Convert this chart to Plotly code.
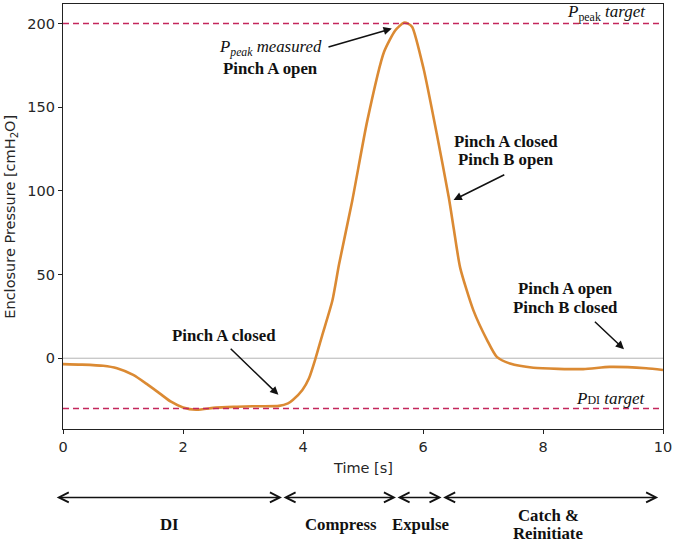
import plotly.graph_objects as go

# ---- data ----
time_s = [0.0, 0.3, 0.67, 0.9, 1.17, 1.4, 1.61, 1.8, 2.0, 2.22, 2.55, 2.9, 3.16, 3.6, 3.75,
          3.83, 3.99, 4.1, 4.21, 4.32, 4.49, 4.6, 4.82, 5.07, 5.35, 5.54, 5.68, 5.75, 5.82,
          6.01, 6.23, 6.43, 6.51, 6.62, 6.84, 7.07, 7.23, 7.45, 7.84, 8.67, 9.11, 9.72, 10.0]
pressure = [-3.5, -3.8, -4.5, -6, -10, -15.5, -21, -26, -29.4, -30.8, -29.5, -29, -28.7, -28.5, -27,
            -25, -19, -12, 0, 13.7, 34.5, 56, 94, 141.7, 183, 196, 200.5, 200, 198,
            173, 134, 96, 78, 54, 28.6, 10.7, 0.8, -3.2, -5.7, -6.5, -5.2, -6, -7]

p_peak_target = 200
p_di_target = -30

x_ticks = [0, 2, 4, 6, 8, 10]
y_ticks = [0, 50, 100, 150, 200]

phase_bounds = [-0.13, 3.65, 5.55, 6.31, 9.92]
# (label, x, paper y)
phase_labels = [("DI", 1.78, -0.2255), ("Compress", 4.63, -0.2255), ("Expulse", 5.96, -0.2255),
                ("Catch &amp;", 8.09, -0.203), ("Reinitiate", 8.09, -0.245)]

# callout text lines: (html, x, y)
callout_texts = [
    ("<i>P<sub>peak</sub> measured</i>", 3.455, 185.6),
    ("<b>Pinch A open</b>", 3.455, 173.2),
    ("<b>Pinch A closed</b>", 7.39, 129.8),
    ("<b>Pinch B open</b>", 7.39, 119.0),
    ("<b>Pinch A closed</b>", 2.69, 13.7),
    ("<b>Pinch A open</b>", 8.37, 41.7),
    ("<b>Pinch B closed</b>", 8.37, 30.4),
]

# arrows: (tip_x, tip_y, tail_x, tail_y)
callout_arrows = [
    (5.48, 197.0, 4.40, 185.7),
    (6.51, 94.6, 7.38, 110.1),
    (3.59, -21.9, 2.77, 6.5),
    (9.35, 5.4, 8.84, 22.6),
]

ORANGE = "#DB8A33"
CRIMSON = "#C4265C"
SERIF = "Liberation Serif"
SANS = "DejaVu Sans"
TICKCOL = "#262626"
TXT = "#111111"
FS = 16.8

fig = go.Figure()
fig.add_trace(go.Scatter(x=time_s, y=pressure, mode="lines",
                         line=dict(color=ORANGE, width=2.6, shape="spline", smoothing=0.6),
                         showlegend=False, hoverinfo="skip"))

fig.add_hline(y=0, line=dict(color="#B5B5B5", width=1), layer="below")
fig.add_hline(y=p_peak_target, line=dict(color=CRIMSON, width=1.5, dash="6px,4px"))
fig.add_hline(y=p_di_target, line=dict(color=CRIMSON, width=1.5, dash="6px,4px"))

ann = []
# target labels
ann.append(dict(x=9.75, y=206.5, xref="x", yref="y", xanchor="right", yanchor="middle",
                text="<i>P</i><sub>peak</sub> <i>target</i>", showarrow=False,
                font=dict(family=SERIF, size=17, color=TXT)))
ann.append(dict(x=9.75, y=-23.8, xref="x", yref="y", xanchor="right", yanchor="middle",
                text="<i>P</i><span style='font-size:12px'>DI</span> <i>target</i>", showarrow=False,
                font=dict(family=SERIF, size=17, color=TXT)))
for html, tx, ty in callout_texts:
    ann.append(dict(x=tx, y=ty, xref="x", yref="y", xanchor="center", yanchor="middle",
                    text=html, showarrow=False, font=dict(family=SERIF, size=FS, color=TXT)))
for tx, ty, sx, sy in callout_arrows:
    ann.append(dict(x=tx, y=ty, ax=sx, ay=sy, xref="x", yref="y", axref="x", ayref="y",
                    text="", showarrow=True, arrowhead=2, arrowsize=1.1, arrowwidth=1.5,
                    arrowcolor=TXT, standoff=0, startstandoff=0))

# axis titles
ann.append(dict(x=0.5, y=-0.0915, xref="paper", yref="paper", xanchor="center", yanchor="middle",
                text="Time [s]", showarrow=False, font=dict(family=SANS, size=14.5, color=TICKCOL)))
ann.append(dict(x=-0.088, y=0.5, xref="paper", yref="paper", xanchor="center", yanchor="middle",
                textangle=-90, text="Enclosure Pressure [cmH<sub>2</sub>O]", showarrow=False,
                font=dict(family=SANS, size=14.5, color=TICKCOL)))

# phase arrows + labels
for i in range(len(phase_bounds) - 1):
    a, b = phase_bounds[i], phase_bounds[i + 1]
    ann.append(dict(x=b, y=-0.161, xref="x", yref="paper", ax=a, ay=0, axref="x", ayref="pixel",
                    text="", showarrow=True, arrowhead=5, arrowside="end+start", arrowsize=1.3,
                    arrowwidth=1.5, arrowcolor=TXT, standoff=0, startstandoff=0))
for name, lx, ly in phase_labels:
    ann.append(dict(x=lx, y=ly, xref="x", yref="paper", xanchor="center",
                    yanchor="middle", text="<b>" + name + "</b>", showarrow=False,
                    font=dict(family=SERIF, size=FS, color=TXT)))

fig.update_layout(
    width=675, height=542,
    margin=dict(l=63, r=10, t=3, b=113),
    paper_bgcolor="white", plot_bgcolor="white",
    annotations=ann,
    showlegend=False,
    font=dict(family=SANS, size=14.5, color=TICKCOL),
)
fig.update_xaxes(range=[0, 10], tickvals=x_ticks, showgrid=False, zeroline=False,
                 showline=True, linecolor="#222", linewidth=1.2, mirror=True,
                 ticks="outside", ticklen=4, tickcolor="#222",
                 tickfont=dict(family=SANS, size=14.5, color=TICKCOL))
fig.update_yaxes(range=[-42.3, 211.7], tickvals=y_ticks, showgrid=False, zeroline=False,
                 showline=True, linecolor="#222", linewidth=1.2, mirror=True,
                 ticks="outside", ticklen=4, tickcolor="#222",
                 tickfont=dict(family=SANS, size=14.5, color=TICKCOL))

fig.write_html("out.html")
